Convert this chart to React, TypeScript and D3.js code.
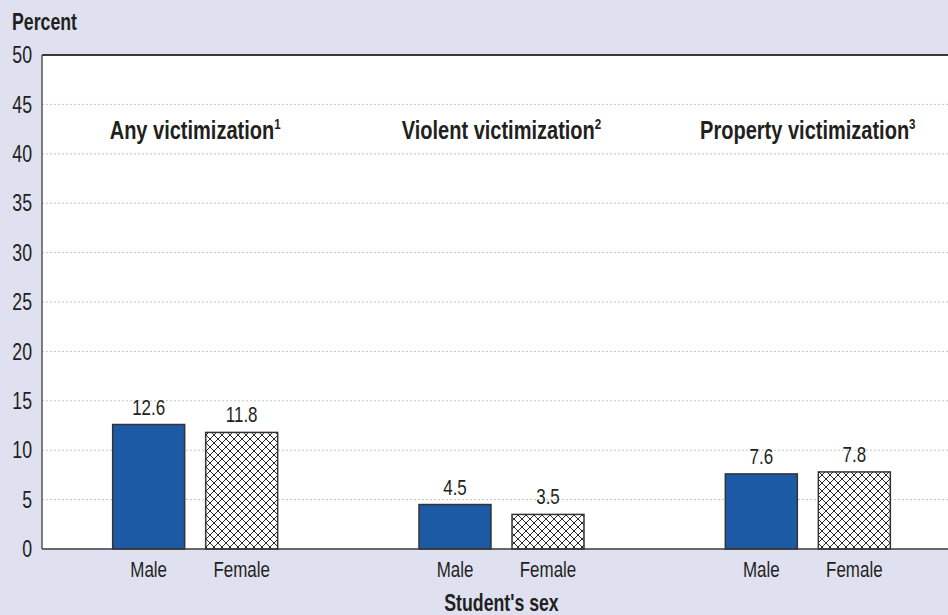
import * as React from "react";
import * as d3 from "d3";

const groups = ["Any victimization", "Violent victimization", "Property victimization"];
const footnotes = ["1", "2", "3"];
const sexes = ["Male", "Female"];
const maleValues = [12.6, 4.5, 7.6];
const femaleValues = [11.8, 3.5, 7.8];
const yTicks = [0, 5, 10, 15, 20, 25, 30, 35, 40, 45, 50];

const WIDTH = 948;
const HEIGHT = 615;
const margin = { top: 55, right: -13, bottom: 66, left: 42 };

const FONT = "'Liberation Sans', Arial, sans-serif";
const SQUEEZE = 0.77; // condensed look
const BG = "#dfe1f0";
const BLUE = "#1c5aa5";
const INK = "#231f20";

function Label({
  x,
  y,
  size,
  anchor = "middle",
  bold = false,
  dy,
  children,
}: {
  x: number;
  y: number;
  size: number;
  anchor?: "start" | "middle" | "end";
  bold?: boolean;
  dy?: string;
  children: React.ReactNode;
}) {
  return (
    <text
      transform={`translate(${x},${y}) scale(${SQUEEZE},1)`}
      textAnchor={anchor}
      fontSize={size}
      fontWeight={bold ? "bold" : "normal"}
      dy={dy}
      fill={INK}
    >
      {children}
    </text>
  );
}

export default function App() {
  const iw = WIDTH - margin.left - margin.right;
  const ih = HEIGHT - margin.top - margin.bottom;

  const x = d3.scaleBand<string>().domain(groups).range([0, iw]).padding(0);
  const pairWidth = 165;
  const xInner = d3
    .scaleBand<string>()
    .domain(sexes)
    .range([0, pairWidth])
    .paddingInner(0.226)
    .paddingOuter(0);
  const y = d3.scaleLinear().domain([0, 50]).range([ih, 0]);

  const values: Record<string, number[]> = { Male: maleValues, Female: femaleValues };
  const visibleRight = WIDTH - margin.left;

  return (
    <svg
      width={WIDTH}
      height={HEIGHT}
      style={{ position: "absolute", left: 0, top: 0, fontFamily: FONT }}
    >
      <defs>
        <pattern id="crosshatch" width={8} height={8} patternUnits="userSpaceOnUse">
          <rect width={8} height={8} fill="#fff" />
          <path d="M0,0L8,8M8,0L0,8" stroke="#2a2a2a" strokeWidth={1} />
        </pattern>
      </defs>
      <rect width={WIDTH} height={HEIGHT} fill={BG} />

      <Label x={12} y={30} size={23} anchor="start" bold>
        Percent
      </Label>

      <g transform={`translate(${margin.left},${margin.top})`}>
        <rect x={0} y={0} width={visibleRight} height={ih} fill="#fff" />

        {yTicks.map((t) => (
          <g key={t}>
            {t > 0 && t < 50 && (
              <line
                x1={0}
                x2={visibleRight}
                y1={y(t)}
                y2={y(t)}
                stroke="#c4c4c4"
                strokeDasharray="2 2"
              />
            )}
            <Label x={-10} y={y(t)} dy="0.36em" size={23} anchor="end">
              {t}
            </Label>
          </g>
        ))}

        {groups.map((g, gi) => {
          const cx = (x(g) ?? 0) + x.bandwidth() / 2;
          const x0 = cx - pairWidth / 2;
          return (
            <g key={g}>
              <Label x={cx} y={139 - margin.top} size={26} bold>
                {g}
                <tspan fontSize={15} dy={-10}>
                  {footnotes[gi]}
                </tspan>
              </Label>
              {sexes.map((s) => {
                const v = values[s][gi];
                const bx = x0 + (xInner(s) ?? 0);
                const bw = xInner.bandwidth();
                return (
                  <g key={s}>
                    <rect
                      x={bx}
                      y={y(v)}
                      width={bw}
                      height={ih - y(v)}
                      fill={s === "Male" ? BLUE : "url(#crosshatch)"}
                      stroke="#333"
                      strokeWidth={1.5}
                    />
                    <Label x={bx + bw / 2} y={y(v) - 10} size={22}>
                      {v.toFixed(1)}
                    </Label>
                    <Label x={bx + bw / 2} y={ih + 28} size={22}>
                      {s}
                    </Label>
                  </g>
                );
              })}
            </g>
          );
        })}

        <line x1={0} x2={visibleRight} y1={0} y2={0} stroke="#3a3a3a" strokeWidth={2} />
        <line x1={0} x2={0} y1={0} y2={ih} stroke="#555" strokeWidth={1.5} />
        <line x1={0} x2={visibleRight} y1={ih} y2={ih} stroke="#3a3a3a" strokeWidth={1.5} />

        <Label x={(x(groups[1]) ?? 0) + x.bandwidth() / 2} y={ih + 62} size={23} bold>
          Student's sex
        </Label>
      </g>
    </svg>
  );
}
